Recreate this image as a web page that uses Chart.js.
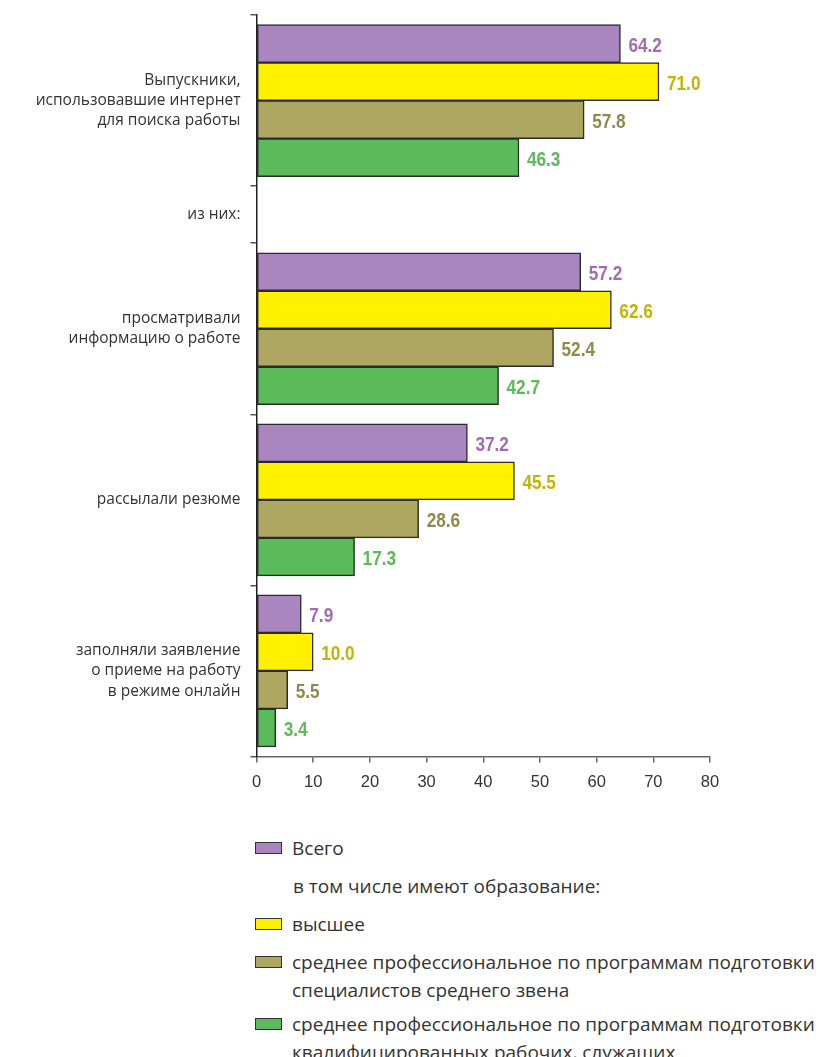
<!DOCTYPE html>
<html lang="ru">
<head>
<meta charset="utf-8">
<title>Поиск работы через интернет</title>
<script src="https://cdn.jsdelivr.net/npm/chart.js@4.4.1/dist/chart.umd.min.js"></script>
<style>
    body {
        margin: 0;
        background: #fff;
        width: 822px;
        height: 1057px;
        overflow: hidden;
        position: relative;
    }
    #chart {
        display: block;
    }
    #legend {
        position: absolute;
        left: 255px;
        top: 834px;
        font-family: 'Open Sans', 'Noto Sans', sans-serif;
        font-size: 19px;
        color: #333;
    }
    .legend-item {
        display: flex;
        align-items: flex-start;
        line-height: 28px;
        margin-bottom: 10px;
    }
    .legend-item.two-line {
        margin-bottom: 6px;
    }
    .legend-box {
        flex: none;
        width: 25px;
        height: 10px;
        margin-top: 8px;
        margin-right: 10px;
        border: 1.5px solid #333;
    }
    .legend-text {
        white-space: pre-line;
    }
    .legend-note {
        padding-left: 38px;
    }
</style>
</head>
<body>
<canvas id="chart" width="822" height="800"></canvas>
<div id="legend"></div>
<script>
// Row labels (the empty "из них:" row is only a heading)
const categories = [
    ['Выпускники,', 'использовавшие интернет', 'для поиска работы'],
    'из них:',
    ['просматривали', 'информацию о работе'],
    'рассылали резюме',
    ['заполняли заявление', 'о приеме на работу', 'в режиме онлайн']
];

const seriesNames = [
    'Всего',
    'высшее',
    'среднее профессиональное по программам подготовки\nспециалистов среднего звена',
    'среднее профессиональное по программам подготовки\nквалифицированных рабочих, служащих'
];
const legendNote = 'в том числе имеют образование:';

// Percent of graduates
const totalValues = [64.2, null, 57.2, 37.2, 7.9];
const higherValues = [71.0, null, 62.6, 45.5, 10.0];
const midLevelValues = [57.8, null, 52.4, 28.6, 5.5];
const workerValues = [46.3, null, 42.7, 17.3, 3.4];

const xTicks = [0, 10, 20, 30, 40, 50, 60, 70, 80];

// Layout: each row's height in units of the y scale (heading row is short)
const rowSpans = [3, 1, 3, 3, 3];
const rowEdges = [0];
rowSpans.forEach(s => rowEdges.push(rowEdges[rowEdges.length - 1] + s));
const rowCenters = rowSpans.map((s, i) => rowEdges[i] + s / 2);
const yMax = rowEdges[rowEdges.length - 1];

const LABEL_FONT = { family: "'Open Sans', 'Noto Sans', sans-serif", size: 15.5, lineHeight: 1.3 };
const NUM_FAMILY = "'Liberation Sans', Arial, sans-serif";

function toPoints(values) {
    return values
        .map((v, i) => ({ x: v, y: rowCenters[i] }))
        .filter(p => p.x !== null);
}

function makeDataset(label, values, fill, textColor) {
    return {
        label: label,
        data: toPoints(values),
        backgroundColor: fill,
        borderColor: '#2b2b2b',
        borderWidth: 1.5,
        borderSkipped: false,
        barThickness: 38,
        yAxisID: 'y',
        xAxisID: 'x',
        labelColor: textColor
    };
}

// Value printed to the right of each bar, squeezed to a narrow face
const valueLabels = {
    id: 'valueLabels',
    afterDatasetsDraw(chart) {
        const ctx = chart.ctx;
        chart.data.datasets.forEach((ds, i) => {
            const meta = chart.getDatasetMeta(i);
            meta.data.forEach((bar, j) => {
                ctx.save();
                ctx.font = 'bold 20px ' + NUM_FAMILY;
                ctx.textAlign = 'left';
                ctx.textBaseline = 'middle';
                ctx.fillStyle = ds.labelColor;
                ctx.translate(bar.x + 8, bar.y + 2.5);
                ctx.scale(0.86, 1);
                ctx.fillText(ds.data[j].x.toFixed(1), 0, 0);
                ctx.restore();
            });
        });
    }
};

// Row captions sit between fixed edges; drop the half-label padding
function noLabelPadding(scale) {
    scale.paddingTop = 0;
    scale.paddingBottom = 0;
}

const chart = new Chart(document.getElementById('chart'), {
    type: 'bar',
    data: {
        datasets: [
            makeDataset(seriesNames[0], totalValues, '#a986c0', '#a46cb0'),
            makeDataset(seriesNames[1], higherValues, '#fff100', '#c4b400'),
            makeDataset(seriesNames[2], midLevelValues, '#ada761', '#8e8a48'),
            makeDataset(seriesNames[3], workerValues, '#5bba5a', '#5bba5a')
        ]
    },
    options: {
        indexAxis: 'y',
        responsive: false,
        animation: false,
        layout: {
            padding: { top: 15, right: 112, bottom: 0, left: 0 }
        },
        plugins: {
            legend: { display: false },
            tooltip: { enabled: false }
        },
        scales: {
            x: {
                type: 'linear',
                position: 'bottom',
                min: xTicks[0],
                max: xTicks[xTicks.length - 1],
                afterBuildTicks: scale => {
                    scale.ticks = xTicks.map(v => ({ value: v }));
                },
                afterFit: scale => {
                    scale.height = 43.5;
                },
                grid: {
                    drawOnChartArea: false,
                    tickLength: 6,
                    color: '#666',
                    lineWidth: 1.5
                },
                border: { color: '#666', width: 1.5 },
                ticks: {
                    padding: 10,
                    color: '#333',
                    font: { family: NUM_FAMILY, size: 16.5 }
                }
            },
            // axis line with marks between the rows
            y: {
                type: 'linear',
                axis: 'y',
                position: 'left',
                reverse: true,
                offset: false,
                min: 0,
                max: yMax,
                weight: 0,
                afterBuildTicks: scale => {
                    scale.ticks = rowEdges.map(v => ({ value: v }));
                },
                afterFit: scale => {
                    scale.width = 6;
                    noLabelPadding(scale);
                },
                grid: {
                    offset: false,
                    drawOnChartArea: false,
                    tickLength: 6,
                    color: '#555',
                    lineWidth: 1.5
                },
                border: { color: '#222', width: 1.5 },
                ticks: { display: false }
            },
            // row captions, centred on each row
            yl: {
                type: 'linear',
                axis: 'y',
                position: 'left',
                reverse: true,
                offset: false,
                min: 0,
                max: yMax,
                weight: 1,
                afterBuildTicks: scale => {
                    scale.ticks = rowCenters.map(v => ({ value: v }));
                },
                afterFit: scale => {
                    scale.width = 250.5;
                    noLabelPadding(scale);
                },
                grid: { display: false, drawTicks: false, offset: false },
                border: { display: false },
                ticks: {
                    autoSkip: false,
                    padding: 10,
                    color: '#333',
                    font: LABEL_FONT,
                    callback: (value, index) => categories[index]
                }
            }
        }
    },
    plugins: [valueLabels]
});

// Legend below the chart
function buildLegend(chart) {
    const box = document.getElementById('legend');
    chart.data.datasets.forEach((ds, i) => {
        const item = document.createElement('div');
        item.className = 'legend-item';
        if (ds.label.includes('\n')) {
            item.classList.add('two-line');
        }
        const swatch = document.createElement('span');
        swatch.className = 'legend-box';
        swatch.style.background = ds.backgroundColor;
        const text = document.createElement('span');
        text.className = 'legend-text';
        text.textContent = ds.label;
        item.appendChild(swatch);
        item.appendChild(text);
        box.appendChild(item);
        if (i === 0) {
            const note = document.createElement('div');
            note.className = 'legend-item legend-note';
            note.textContent = legendNote;
            box.appendChild(note);
        }
    });
}

buildLegend(chart);
</script>
</body>
</html>
